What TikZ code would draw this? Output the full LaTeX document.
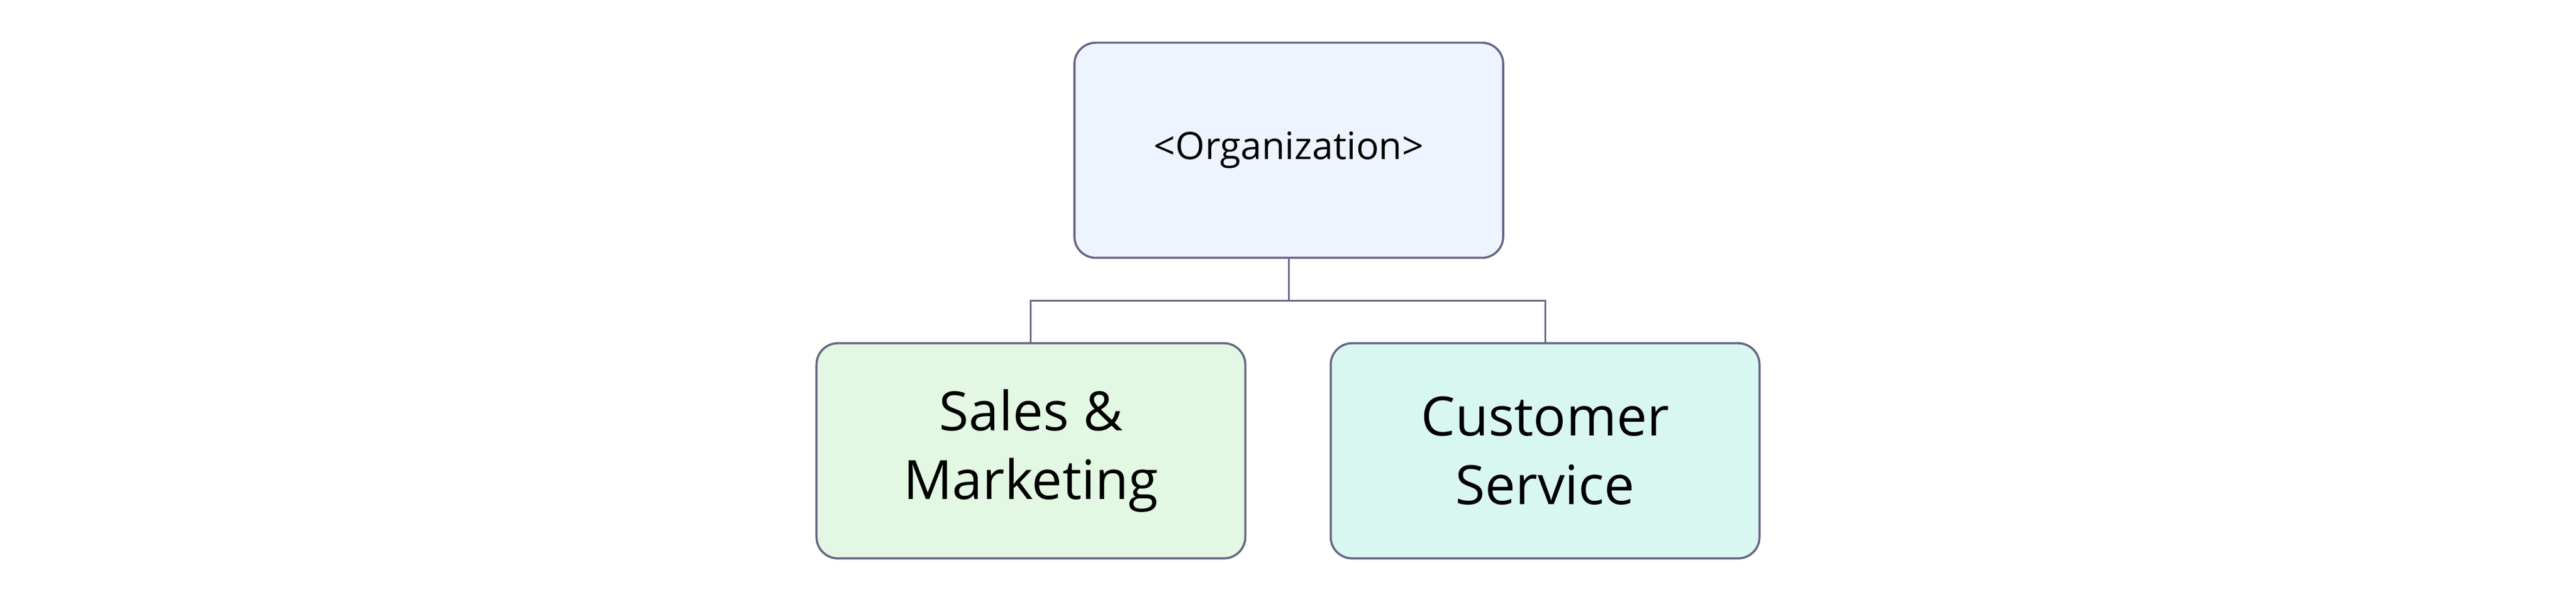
\documentclass[tikz,border=0pt]{standalone}
\usepackage{fontspec}
\setmainfont{Open Sans}
\begin{document}
\begin{tikzpicture}[x=1pt,y=-1pt,
box/.style={draw=black!80!blue!60,line width=1.3pt,rounded corners=13pt,minimum width=261pt,minimum height=131pt,align=center,inner sep=0pt},
link/.style={draw=black!80!blue!60,line width=1.1pt}]
\useasboundingbox (0,0) rectangle (1568,366.5);
\definecolor{ca}{HTML}{EEF4FE}\definecolor{cb}{HTML}{E3F8E3}\definecolor{cc}{HTML}{D9F7F1}
\node[box,fill=ca,font=\fontsize{23}{28}\selectfont] (org) at (784.5,91.5) {<Organization>};
\node[box,fill=cb,font=\fontsize{33}{42}\selectfont] (sm) at (627.5,274.5) {Sales \&\\Marketing};
\node[box,fill=cc,font=\fontsize{33}{42}\selectfont] (cs) at (940.5,274.5) {Customer\\Service};
\coordinate (j) at (784.5,183);
\draw[link] (org.south) -- (j) -| (sm.north);
\draw[link] (j) -| (cs.north);
\end{tikzpicture}
\end{document}
